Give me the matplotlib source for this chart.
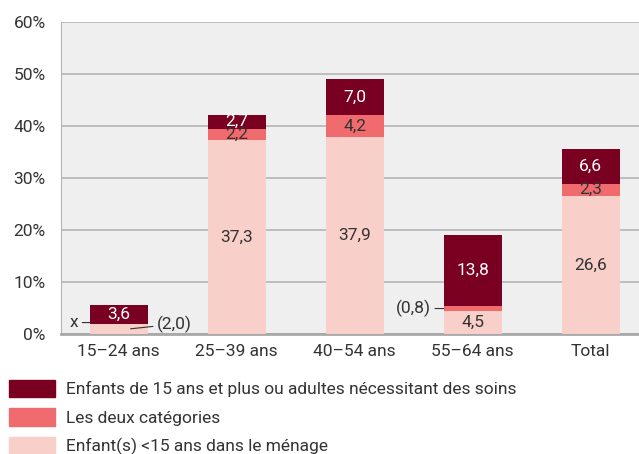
import matplotlib.pyplot as plt
from matplotlib.patches import Patch

plt.rcParams['font.family'] = ['Roboto', 'DejaVu Sans']

groups = ['15–24 ans', '25–39 ans', '40–54 ans', '55–64 ans', 'Total']
enfants_moins15 = [2.0, 37.3, 37.9, 4.5, 26.6]
deux_categories = [0.0, 2.2, 4.2, 0.8, 2.3]
enfants_15_plus = [3.6, 2.7, 7.0, 13.8, 6.6]

lbl_moins15 = ['', '37,3', '37,9', '4,5', '26,6']
lbl_deux = ['', '2,2', '4,2', '', '2,3']
lbl_plus = ['3,6', '2,7', '7,0', '13,8', '6,6']

legend_labels = ['Enfants de 15 ans et plus ou adultes nécessitant des soins',
                 'Les deux catégories',
                 'Enfant(s) <15 ans dans le ménage']

c_dark = '#7a0022'
c_mid = '#f06b6e'
c_light = '#f9cfca'
txt = '#333333'
fs = 12.5

fig = plt.figure(figsize=(6.39, 4.54), dpi=100)
ax = fig.add_axes([61 / 639, 120 / 454, 578 / 639, 312 / 454])
ax.set_facecolor('#efefef')

x = list(range(len(groups)))
w = 0.49
b1 = ax.bar(x, enfants_moins15, w, color=c_light, zorder=3)
bot2 = enfants_moins15
b2 = ax.bar(x, deux_categories, w, bottom=bot2, color=c_mid, zorder=3)
bot3 = [a + b for a, b in zip(enfants_moins15, deux_categories)]
b3 = ax.bar(x, enfants_15_plus, w, bottom=bot3, color=c_dark, zorder=3)

ax.bar_label(b1, labels=lbl_moins15, label_type='center', color=txt, fontsize=fs, zorder=4)
ax.bar_label(b2, labels=lbl_deux, label_type='center', color=txt, fontsize=fs, zorder=4)
ax.bar_label(b3, labels=lbl_plus, label_type='center', color='white', fontsize=fs, zorder=4)

# small values outside the bars
ax.annotate('x', xy=(x[0] - w / 2, 2.2), xytext=(x[0] - w / 2 - 0.1, 2.2),
            ha='right', va='center', fontsize=fs, color=txt,
            arrowprops=dict(arrowstyle='-', color=txt, lw=0.8, shrinkA=1, shrinkB=0))
ax.annotate('(2,0)', xy=(x[0] + 0.1, 1.0), xytext=(x[0] + w / 2 + 0.08, 1.9),
            ha='left', va='center', fontsize=fs, color=txt,
            arrowprops=dict(arrowstyle='-', color=txt, lw=0.8, shrinkA=1, shrinkB=0))
ax.annotate('(0,8)', xy=(x[3] - w / 2, 4.9), xytext=(x[3] - w / 2 - 0.11, 4.9),
            ha='right', va='center', fontsize=fs, color=txt,
            arrowprops=dict(arrowstyle='-', color=txt, lw=0.8, shrinkA=1, shrinkB=0))

ax.set_xlim(-0.49, 4.41)
ax.set_ylim(0, 60)
ax.set_yticks(range(0, 61, 10))
ax.set_yticklabels([f'{v}%' for v in range(0, 61, 10)])
ax.set_xticks(x)
ax.set_xticklabels(groups)
ax.tick_params(axis='both', length=0, labelsize=fs, labelcolor=txt)
ax.tick_params(axis='y', pad=11)
ax.tick_params(axis='x', pad=7)
ax.grid(axis='y', color='#b5b5b5', lw=1.2, zorder=1)
for s in ['top', 'right']:
    ax.spines[s].set_visible(False)
ax.spines['left'].set_color('#b5b5b5')
ax.spines['bottom'].set_color('#a8a8a8')
ax.spines['bottom'].set_linewidth(2)

handles = [Patch(color=c_dark), Patch(color=c_mid), Patch(color=c_light)]
fig.legend(handles, legend_labels, loc='upper left', bbox_to_anchor=(9 / 639, 74 / 454),
           frameon=False, fontsize=fs, handlelength=2.65, handleheight=1.15,
           labelspacing=0.63, handletextpad=0.63, borderaxespad=0, borderpad=0,
           labelcolor=txt)

fig.savefig('out.png', dpi=100)
